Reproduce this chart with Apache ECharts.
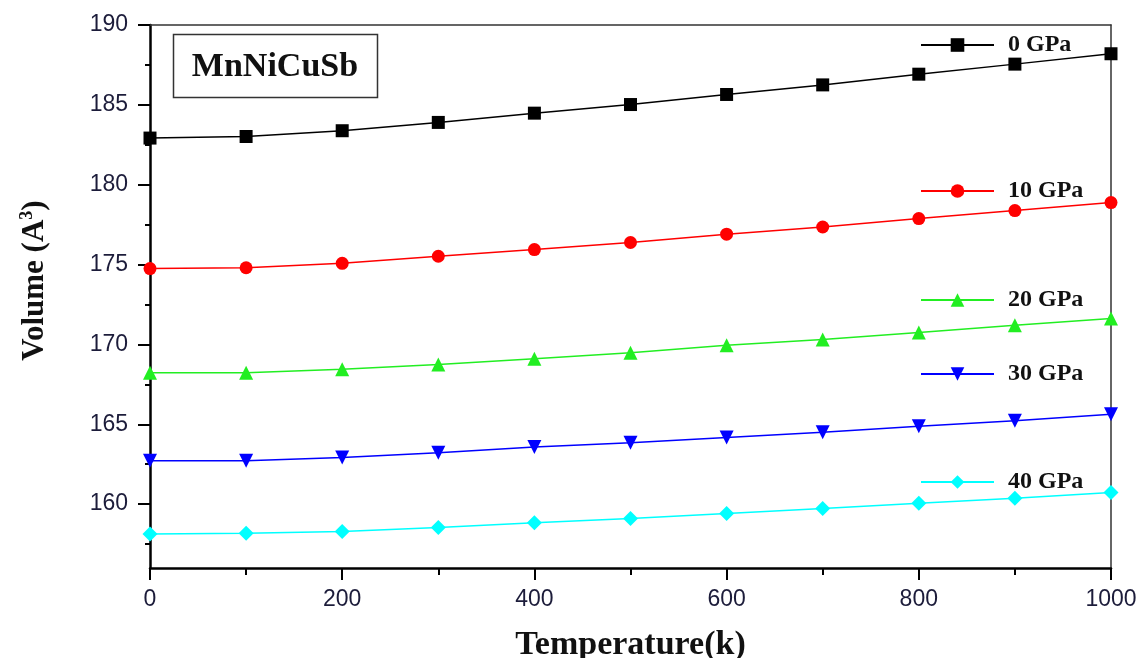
<!DOCTYPE html>
<html>
<head>
<meta charset="utf-8">
<script src="https://cdn.jsdelivr.net/npm/echarts@6/dist/echarts.min.js"></script>
<style>
html,body{margin:0;padding:0;background:#fff;}
#chart{width:1142px;height:658px;}
</style>
</head>
<body>
<div id="chart"></div>
<script>
var temperatures = [0, 100, 200, 300, 400, 500, 600, 700, 800, 900, 1000];
var seriesNames = ['0 GPa', '10 GPa', '20 GPa', '30 GPa', '40 GPa'];
var v0 = [182.92, 183.02, 183.38, 183.9, 184.48, 185.02, 185.65, 186.25, 186.92, 187.55, 188.2];
var v10 = [174.75, 174.8, 175.08, 175.52, 175.94, 176.38, 176.9, 177.35, 177.88, 178.38, 178.88];
var v20 = [168.22, 168.23, 168.45, 168.74, 169.1, 169.48, 169.94, 170.31, 170.75, 171.2, 171.62];
var v30 = [162.71, 162.72, 162.92, 163.22, 163.57, 163.85, 164.17, 164.5, 164.87, 165.22, 165.62];
var v40 = [158.13, 158.17, 158.29, 158.54, 158.83, 159.1, 159.42, 159.72, 160.05, 160.36, 160.72];
var values = [v0, v10, v20, v30, v40];
var yTicks = [160, 165, 170, 175, 180, 185, 190];
var yMinorTicks = [157.5, 162.5, 167.5, 172.5, 177.5, 182.5, 187.5];
var colors = ['#000000', '#ff0000', '#22ee22', '#0000ff', '#00ffff'];
var symbols = ['rect', 'circle', 'triangle', 'path://M0,0 L10,0 L5,10 Z', 'diamond'];
var symbolSizes = [13, 13, 14, 14, 15];
var legendCenters = [45, 191, 300, 374, 482];

var chart = echarts.init(document.getElementById('chart'));
var serif = '"Liberation Serif", "Times New Roman", serif';
var sans = '"Liberation Sans", Arial, sans-serif';

function pairs(arr) {
  return temperatures.map(function (t, i) { return [t, arr[i]]; });
}

var series = seriesNames.map(function (name, i) {
  return {
    name: name,
    type: 'line',
    data: pairs(values[i]),
    symbol: symbols[i],
    symbolSize: symbolSizes[i],
    showAllSymbol: true,
    clip: false,
    lineStyle: { color: colors[i], width: 1.5 },
    itemStyle: { color: colors[i] },
    emphasis: { disabled: true },
    animation: false,
    z: 3
  };
});

var legends = seriesNames.map(function (name, i) {
  return {
    data: [name],
    left: 920,
    top: legendCenters[i] - 12,
    orient: 'horizontal',
    padding: 0,
    itemWidth: 73,
    itemHeight: 17,
    textStyle: { fontFamily: serif, fontWeight: 'bold', fontSize: 24, color: '#111', padding: [0, 0, 0, 9] },
    selectedMode: false
  };
});

var option = {
  backgroundColor: '#ffffff',
  animation: false,
  grid: { left: 150, right: 31, top: 25, bottom: 90, containLabel: false, outerBoundsMode: 'none' },
  legend: legends,
  xAxis: [{
    type: 'value',
    min: 0, max: 1000, interval: 200,
    name: 'Temperature(k)',
    nameLocation: 'middle',
    nameGap: 60,
    nameTextStyle: { fontFamily: serif, fontWeight: 'bold', fontSize: 34, color: '#111' },
    axisLine: { show: true, lineStyle: { color: '#000', width: 2.5 } },
    axisTick: { show: true, inside: false, length: 12, lineStyle: { color: '#000', width: 2 } },
    minorTick: { show: true, splitNumber: 2, length: 7, lineStyle: { color: '#000', width: 2 } },
    axisLabel: { margin: 20, fontFamily: sans, fontSize: 23, color: '#1c1c3a', formatter: function (v) { return String(v); } },
    splitLine: { show: false }
  }, {
    type: 'value', position: 'top',
    min: 0, max: 1000,
    axisLine: { show: true, lineStyle: { color: '#333', width: 1.5 } },
    axisTick: { show: false }, axisLabel: { show: false }, splitLine: { show: false }
  }],
  yAxis: [{
    type: 'value',
    min: 156, max: 190,
    name: 'Volume (A{sup|3})',
    nameLocation: 'middle',
    nameRotate: 90,
    nameGap: 98,
    nameTextStyle: {
      fontFamily: serif, fontWeight: 'bold', fontSize: 31, color: '#111',
      padding: [0, 0, 0, 32],
      rich: { sup: { fontFamily: serif, fontWeight: 'bold', fontSize: 18, color: '#111', verticalAlign: 'top', padding: [0, 0, 16, 0] } }
    },
    axisLine: { show: true, onZero: false, lineStyle: { color: '#000', width: 2.5 } },
    axisTick: { show: true, inside: false, length: 12, customValues: yTicks, lineStyle: { color: '#000', width: 2 } },
    axisLabel: {
      margin: 22, fontFamily: sans, fontSize: 23, color: '#1c1c3a', customValues: yTicks
    },
    splitLine: { show: false }
  }, {
    type: 'value', position: 'left', offset: 0,
    min: 156, max: 190,
    axisLine: { show: false },
    axisTick: { show: true, inside: false, length: 5, customValues: yMinorTicks, lineStyle: { color: '#000', width: 2 } },
    axisLabel: { show: false, customValues: yMinorTicks },
    splitLine: { show: false }
  }, {
    type: 'value', position: 'right',
    min: 156, max: 190,
    axisLine: { show: true, onZero: false, lineStyle: { color: '#333', width: 1.5 } },
    axisTick: { show: false }, axisLabel: { show: false }, splitLine: { show: false }
  }],
  graphic: [{
    type: 'rect',
    shape: { x: 173.5, y: 34.5, width: 204, height: 63 },
    style: { fill: '#fff', stroke: '#333', lineWidth: 1.5 },
    z: 10
  }, {
    type: 'text',
    x: 275, y: 67,
    style: {
      text: 'MnNiCuSb', fontFamily: serif, fontWeight: 'bold', fontSize: 34,
      fill: '#111', align: 'center', verticalAlign: 'middle'
    },
    z: 11
  }],
  series: series
};
chart.setOption(option);
</script>
</body>
</html>
